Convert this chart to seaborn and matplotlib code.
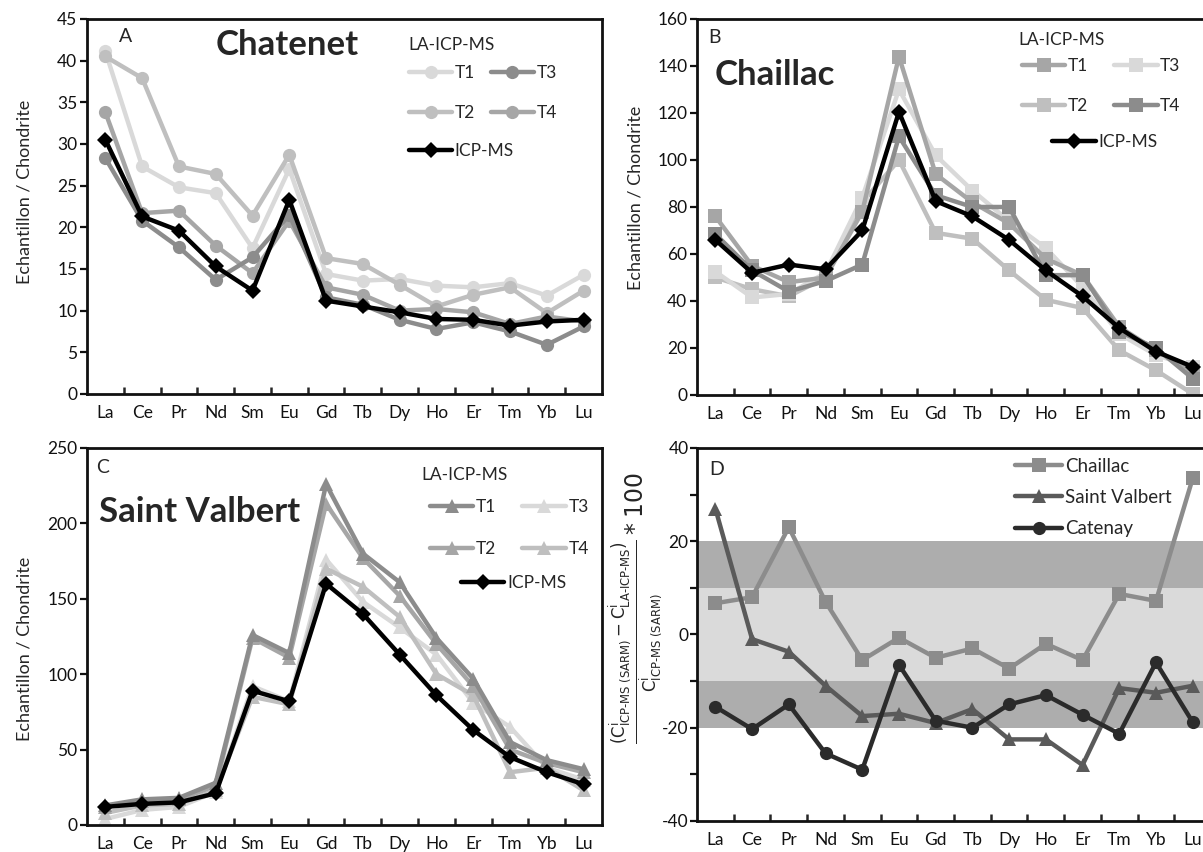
import numpy as np
import pandas as pd
import matplotlib
matplotlib.use('Agg')
import matplotlib.pyplot as plt
from matplotlib.ticker import MultipleLocator, FuncFormatter
import seaborn as sns

elements = ['La', 'Ce', 'Pr', 'Nd', 'Sm', 'Eu', 'Gd', 'Tb', 'Dy', 'Ho', 'Er', 'Tm', 'Yb', 'Lu']

# A - Chatenet (chondrite normalised)
chat_t1 = [41.1, 27.3, 24.8, 24.1, 17.5, 27.0, 14.4, 13.6, 13.8, 13.0, 12.8, 13.3, 11.8, 14.3]
chat_t2 = [40.5, 37.9, 27.3, 26.4, 21.4, 28.7, 16.3, 15.6, 13.1, 10.5, 11.9, 12.8, 9.7, 12.4]
chat_t3 = [28.3, 20.8, 17.6, 13.7, 16.4, 21.5, 11.6, 10.7, 8.9, 7.8, 8.6, 7.5, 5.9, 8.1]
chat_t4 = [33.8, 21.7, 22.0, 17.8, 14.5, 20.8, 12.8, 11.9, 10.0, 10.2, 9.8, 8.4, 9.3, 8.7]
chat_icp = [30.5, 21.3, 19.6, 15.3, 12.4, 23.3, 11.2, 10.5, 9.8, 9.0, 8.9, 8.2, 8.7, 8.9]

# B - Chaillac
chai_t1 = [76, 55, 48, 50, 78, 144, 94, 82, 73, 58, 51, 29, 19, 10]
chai_t2 = [50, 45, 42, 50, 82, 100, 69, 66.5, 53, 40.5, 37, 19, 10.5, 0.5]
chai_t3 = [52.5, 41.5, 43, 52, 84, 130, 102, 87, 74, 62.5, 46, 26, 17, 12]
chai_t4 = [68.5, 53, 44, 48.5, 55.5, 110, 85, 80, 80, 51, 51, 27, 20, 7]
chai_icp = [66, 52, 55.5, 53.5, 70, 120.5, 82.5, 76, 66, 53, 42, 28.5, 18.5, 12]

# C - Saint Valbert
sv_t1 = [13, 17, 18, 28, 126, 114, 226, 180, 161, 124, 97, 55, 43, 37]
sv_t2 = [12, 16, 17, 26, 124, 111, 213, 177, 152, 120, 92, 50, 41, 35]
sv_t3 = [4, 10, 12, 22, 92, 82, 176, 148, 131, 113, 81, 65, 38, 30]
sv_t4 = [8, 13, 14, 23, 85, 80, 170, 158, 138, 100, 86, 35, 38, 23]
sv_icp = [12, 14, 15, 21, 89, 82, 160, 140, 113, 86, 63, 45, 35, 27]

# D - relative deviation (%)
dev_chaillac = [6.7, 8.0, 23.0, 7.0, -5.5, -0.7, -5.0, -3.0, -7.3, -2.0, -5.5, 8.7, 7.2, 33.5]
dev_valbert = [27.0, -1.0, -3.7, -11.0, -17.5, -17.0, -19.0, -16.0, -22.5, -22.5, -28.0, -11.5, -12.5, -11.0]
dev_catenay = [-15.5, -20.3, -15.0, -25.5, -29.0, -6.5, -18.5, -20.0, -15.0, -13.0, -17.2, -21.3, -6.0, -18.8]

sns.set_style('ticks')
plt.rcParams['font.family'] = ['Lato', 'DejaVu Sans']
plt.rcParams['mathtext.fontset'] = 'dejavusans'
plt.rcParams['axes.linewidth'] = 2.0

FS = 12.5
LW = 3.2


def draw(ax, values, label, color, marker, ms):
    df = pd.DataFrame({'pos': np.arange(len(elements)), 'val': values})
    sns.lineplot(data=df, x='pos', y='val', ax=ax, color=color, marker=marker,
                 markersize=ms, markeredgecolor=color, markeredgewidth=0,
                 linewidth=LW, label=label)


def style_axes(ax):
    ax.set_xlim(-0.5, 13.5)
    ax.set_xticks(np.arange(len(elements)))
    ax.set_xticklabels(elements)
    ax.set_xticks(np.arange(0.5, len(elements) - 1, 1), minor=True)
    ax.tick_params(axis='x', which='major', length=0, pad=8, labelsize=FS, colors='#111111')
    ax.tick_params(axis='x', which='minor', direction='in', length=5, width=1.8)
    ax.tick_params(axis='y', direction='out', length=5, width=1.6, labelsize=FS, pad=2,
                   colors='#111111')
    ax.set_xlabel('')
    for s in ax.spines.values():
        s.set_visible(True)
        s.set_color('#111111')


def t_legends(ax, head_xy, rows_xy, icp_xy, colsp=0.9, lsp=1.4):
    ax.text(head_xy[0], head_xy[1], 'LA-ICP-MS', transform=ax.transAxes,
            fontsize=FS, va='center', ha='left')
    h = dict(zip(*ax.get_legend_handles_labels()[::-1]))
    leg = ax.legend([h['T1'], h['T2'], h['T3'], h['T4']], ['T1', 'T2', 'T3', 'T4'],
                    ncol=2, frameon=False, loc='upper left', bbox_to_anchor=rows_xy,
                    borderpad=0, borderaxespad=0, fontsize=FS, handlelength=2.5,
                    handletextpad=0.15, columnspacing=colsp, labelspacing=lsp)
    ax.add_artist(leg)
    ax.legend([h['ICP-MS']], ['ICP-MS'], frameon=False, loc='upper left',
              bbox_to_anchor=icp_xy, borderpad=0, borderaxespad=0, fontsize=FS,
              handlelength=2.5, handletextpad=0.15)


fig = plt.figure(figsize=(12.03, 8.52), dpi=100)

# ---- A
axA = fig.add_axes([0.0723, 0.5376, 0.4281, 0.4401])
draw(axA, chat_t1, 'T1', '#d9d9d9', 'o', 9.5)
draw(axA, chat_t2, 'T2', '#bfbfbf', 'o', 9.5)
draw(axA, chat_t4, 'T4', '#a6a6a6', 'o', 9.5)
draw(axA, chat_t3, 'T3', '#8c8c8c', 'o', 9.5)
draw(axA, chat_icp, 'ICP-MS', 'black', 'D', 8)
style_axes(axA)
axA.set_ylim(0, 45)
axA.yaxis.set_major_locator(MultipleLocator(5))
axA.set_ylabel('Echantillon / Chondrite', fontsize=13)
axA.yaxis.set_label_coords(-0.105, 0.54)
axA.text(0.062, 0.952, 'A', transform=axA.transAxes, fontsize=14, va='center')
axA.text(0.25, 0.931, 'Chatenet', transform=axA.transAxes, fontsize=25,
         fontweight='bold', va='center')
t_legends(axA, (0.625, 0.931), (0.625, 0.877), (0.625, 0.669))

# ---- B
axB = fig.add_axes([0.5794, 0.5364, 0.4273, 0.4413])
draw(axB, chai_t2, 'T2', '#bfbfbf', 's', 9.5)
draw(axB, chai_t3, 'T3', '#d9d9d9', 's', 9.5)
draw(axB, chai_t1, 'T1', '#a6a6a6', 's', 9.5)
draw(axB, chai_t4, 'T4', '#8c8c8c', 's', 9.5)
draw(axB, chai_icp, 'ICP-MS', 'black', 'D', 8)
style_axes(axB)
axB.set_ylim(0, 160)
axB.yaxis.set_major_locator(MultipleLocator(20))
axB.set_ylabel('Echantillon / Chondrite', fontsize=13)
axB.yaxis.set_label_coords(-0.105, 0.524)
axB.text(0.021, 0.952, 'B', transform=axB.transAxes, fontsize=14, va='center')
axB.text(0.035, 0.851, 'Chaillac', transform=axB.transAxes, fontsize=25,
         fontweight='bold', va='center')
t_legends(axB, (0.626, 0.944), (0.632, 0.896), (0.691, 0.694), colsp=1.5)

# ---- C
axC = fig.add_axes([0.0723, 0.0317, 0.4281, 0.4425])
draw(axC, sv_t3, 'T3', '#d9d9d9', '^', 10)
draw(axC, sv_t4, 'T4', '#bfbfbf', '^', 10)
draw(axC, sv_t2, 'T2', '#a6a6a6', '^', 10)
draw(axC, sv_t1, 'T1', '#8c8c8c', '^', 10)
draw(axC, sv_icp, 'ICP-MS', 'black', 'D', 8)
style_axes(axC)
axC.set_ylim(0, 250)
axC.yaxis.set_major_locator(MultipleLocator(50))
axC.set_ylabel('Echantillon / Chondrite', fontsize=13)
axC.yaxis.set_label_coords(-0.105, 0.467)
axC.text(0.017, 0.947, 'C', transform=axC.transAxes, fontsize=14, va='center')
axC.text(0.023, 0.83, 'Saint Valbert', transform=axC.transAxes, fontsize=25,
         fontweight='bold', va='center')
t_legends(axC, (0.649, 0.928), (0.666, 0.865), (0.726, 0.663), colsp=1.5, lsp=1.5)

# ---- D
axD = fig.add_axes([0.5794, 0.0364, 0.4273, 0.4378])
axD.axhspan(10, 20, color='#adadad', lw=0, zorder=0)
axD.axhspan(-20, -10, color='#adadad', lw=0, zorder=0)
axD.axhspan(-10, 10, color='#dadada', lw=0, zorder=0)
draw(axD, dev_chaillac, 'Chaillac', '#8c8c8c', 's', 9.5)
draw(axD, dev_valbert, 'Saint Valbert', '#5a5a5a', '^', 10)
draw(axD, dev_catenay, 'Catenay', '#2b2b2b', 'o', 9.5)
style_axes(axD)
axD.set_ylim(-40, 40)
axD.yaxis.set_major_locator(MultipleLocator(10))
axD.yaxis.set_major_formatter(FuncFormatter(lambda v, p: f'{v:.0f}' if round(v) % 20 == 0 else ''))
axD.tick_params(axis='y', pad=1)
ylab = (r'$\frac{(\mathrm{C}^{\mathrm{i}}_{\mathrm{ICP‐MS\ (SARM)}}-\mathrm{C}^{\mathrm{i}}_{\mathrm{LA‐ICP‐MS}})}'
        r'{\mathrm{C}^{\mathrm{i}}_{\mathrm{ICP‐MS\ (SARM)}}}*100$')
axD.set_ylabel(ylab, fontsize=17)
axD.yaxis.set_label_coords(-0.064, 0.57)
axD.text(0.023, 0.941, 'D', transform=axD.transAxes, fontsize=14, va='center')
axD.legend(frameon=False, loc='upper left', bbox_to_anchor=(0.619, 0.974), borderpad=0,
           borderaxespad=0, fontsize=13.5, handlelength=2.5, handletextpad=0.15,
           labelspacing=0.76)

fig.savefig('out.png', dpi=100)
